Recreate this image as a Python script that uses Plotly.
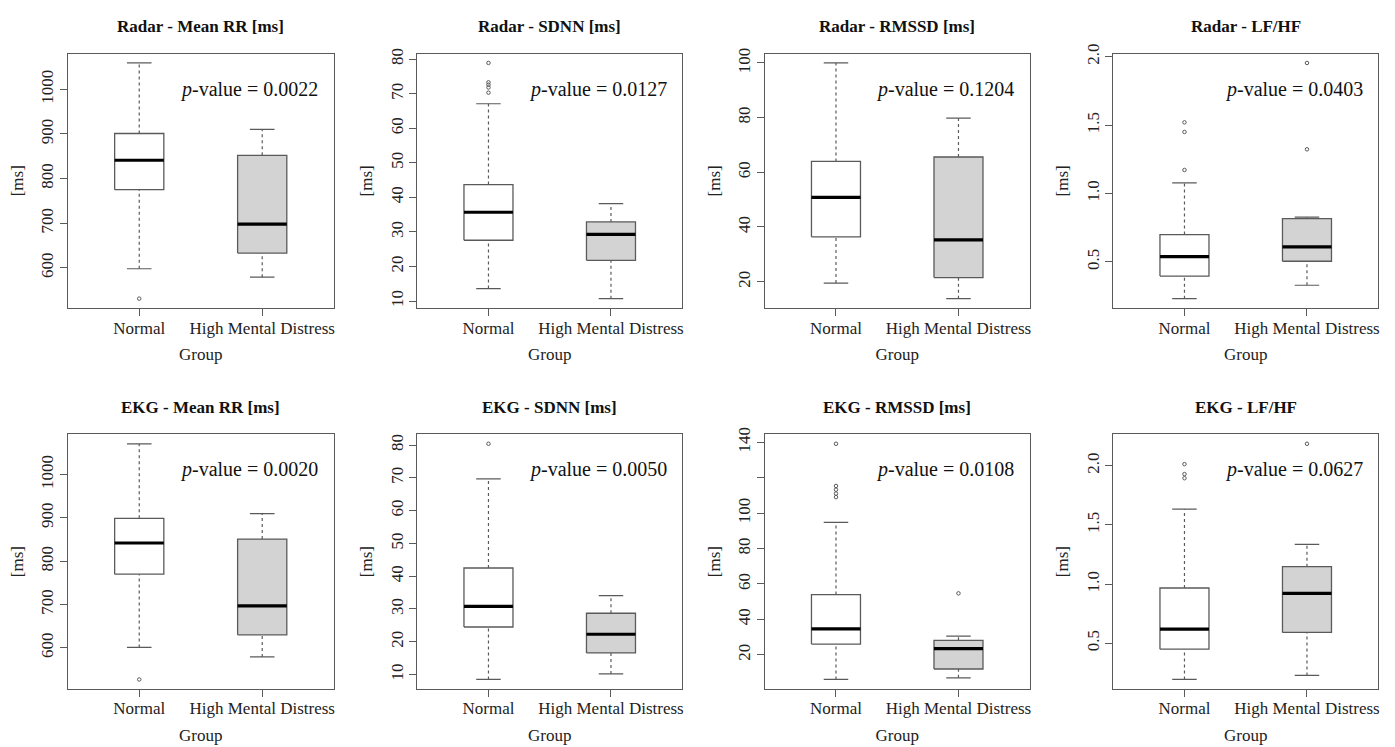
import plotly.graph_objects as go

W, H = 1395, 747

groups = ["Normal", "High Mental Distress"]

titles = ["Radar - Mean RR [ms]", "Radar - SDNN [ms]", "Radar - RMSSD [ms]", "Radar - LF/HF",
          "EKG - Mean RR [ms]", "EKG - SDNN [ms]", "EKG - RMSSD [ms]", "EKG - LF/HF"]
p_values = ["0.0022", "0.0127", "0.1204", "0.0403", "0.0020", "0.0050", "0.0108", "0.0627"]

# five-number stats per panel: [lower whisker, Q1, median, Q3, upper whisker] for Normal / HMD
normal_stats = [
    [598, 775, 841, 901, 1059],
    [13.6, 27.6, 35.7, 43.7, 67.1],
    [19.5, 36.4, 50.8, 64.0, 100.0],
    [0.232, 0.397, 0.539, 0.700, 1.078],
    [601, 770, 842, 899, 1071],
    [8.5, 24.5, 30.8, 42.5, 69.7],
    [6.1, 26.1, 34.7, 54.0, 94.7],
    [0.194, 0.450, 0.619, 0.967, 1.633],
]
hmd_stats = [
    [579, 633, 698, 852, 910],
    [10.7, 21.8, 29.3, 32.9, 38.2],
    [13.8, 21.5, 35.3, 65.6, 79.8],
    [0.330, 0.505, 0.610, 0.817, 0.827],
    [579, 630, 697, 851, 910],
    [10.2, 16.6, 22.3, 28.7, 34.1],
    [7.0, 12.0, 23.5, 28.2, 30.6],
    [0.228, 0.592, 0.922, 1.147, 1.336],
]
normal_outliers = [
    [531],
    [78.9, 73.3, 72.6, 71.8, 70.3],
    [],
    [1.52, 1.45, 1.172],
    [527],
    [80.4],
    [139.1, 115.3, 113.2, 111.0, 109.0],
    [2.014, 1.930, 1.895],
]
hmd_outliers = [
    [],
    [],
    [],
    [1.954, 1.323],
    [],
    [],
    [54.7],
    [2.186],
]
y_tickvals = [
    [600, 700, 800, 900, 1000],
    [10, 20, 30, 40, 50, 60, 70, 80],
    [20, 40, 60, 80, 100],
    [0.5, 1.0, 1.5, 2.0],
    [600, 700, 800, 900, 1000],
    [10, 20, 30, 40, 50, 60, 70, 80],
    [20, 40, 60, 80, 100, 120, 140],
    [0.5, 1.0, 1.5, 2.0],
]
y_ticktext = [
    ["600", "700", "800", "900", "1000"],
    ["10", "20", "30", "40", "50", "60", "70", "80"],
    ["20", "40", "60", "80", "100"],
    ["0.5", "1.0", "1.5", "2.0"],
    ["600", "700", "800", "900", "1000"],
    ["10", "20", "30", "40", "50", "60", "70", "80"],
    ["20", "40", "60", "80", "100", "", "140"],
    ["0.5", "1.0", "1.5", "2.0"],
]

# page offset compensation (browser body margin)
OX, OY = 8, 8
col_px = [(68 - OX, 334 - OX), (418 - OX, 683 - OX), (766 - OX, 1031 - OX), (1115 - OX, 1380 - OX)]
row_px = [(46 - OY - 2, 304 - OY - 2), (430 - OY, 688 - OY)]

FONT = "Liberation Serif"
LINE = "#5a5a5a"
TXT = "#222"
FILLS = ["white", "#d3d3d3"]

fig = go.Figure()
layout = dict(
    width=W, height=H, margin=dict(l=0, r=0, t=0, b=0),
    paper_bgcolor="white", plot_bgcolor="white", showlegend=False,
    font=dict(family=FONT, color=TXT),
)
annotations = []

hw = 0.2   # half box width
cw = 0.1   # half cap width

for i in range(8):
    r, c = divmod(i, 4)
    ax = "" if i == 0 else str(i + 1)
    xref, yref = "x" + ax, "y" + ax
    x0, x1 = col_px[c]
    y0, y1 = row_px[r]

    allv = []
    for pos, (st, outs) in enumerate([(normal_stats[i], normal_outliers[i]), (hmd_stats[i], hmd_outliers[i])], start=1):
        lo, q1, med, q3, hi = st
        allv += [lo, hi] + outs
        for a, b in [(q3, hi), (lo, q1)]:
            fig.add_trace(go.Scatter(x=[pos, pos], y=[a, b], mode="lines", xaxis=xref, yaxis=yref,
                                     line=dict(color=LINE, width=1.2, dash="3px,3px"), hoverinfo="skip"))
        for v in [lo, hi]:
            fig.add_trace(go.Scatter(x=[pos - cw, pos + cw], y=[v, v], mode="lines", xaxis=xref, yaxis=yref,
                                     line=dict(color=LINE, width=1.2), hoverinfo="skip"))
        fig.add_trace(go.Scatter(x=[pos - hw, pos + hw, pos + hw, pos - hw, pos - hw],
                                 y=[q1, q1, q3, q3, q1], mode="lines", fill="toself",
                                 fillcolor=FILLS[pos - 1], xaxis=xref, yaxis=yref,
                                 line=dict(color=LINE, width=1.3), hoverinfo="skip"))
        fig.add_trace(go.Scatter(x=[pos - hw, pos + hw], y=[med, med], mode="lines", xaxis=xref, yaxis=yref,
                                 line=dict(color="black", width=3.2), hoverinfo="skip"))
        if outs:
            fig.add_trace(go.Scatter(x=[pos] * len(outs), y=outs, mode="markers", xaxis=xref, yaxis=yref,
                                     marker=dict(symbol="circle-open", size=3.5, color=LINE, line=dict(width=1)),
                                     hoverinfo="skip"))

    vmin, vmax = min(allv), max(allv)
    pad = 0.04 * (vmax - vmin)

    layout["xaxis" + ax] = dict(
        domain=[x0 / W, x1 / W], range=[0.42, 2.58], anchor=yref,
        tickvals=[1, 2], ticktext=groups, ticks="outside", ticklen=7, tickcolor=LINE,
        showline=True, linecolor=LINE, linewidth=1.2, mirror=True, showgrid=False, zeroline=False,
        tickfont=dict(family=FONT, size=17, color=TXT), ticklabelstandoff=-3,
        title=dict(text="Group", font=dict(family=FONT, size=17, color=TXT), standoff=11),
        fixedrange=True,
    )
    layout["yaxis" + ax] = dict(
        domain=[1 - y1 / H, 1 - y0 / H], range=[vmin - pad, vmax + pad], anchor=xref,
        tickvals=y_tickvals[i], ticktext=y_ticktext[i], tickangle=-90,
        ticks="outside", ticklen=7, tickcolor=LINE,
        showline=True, linecolor=LINE, linewidth=1.2, mirror=True, showgrid=False, zeroline=False,
        tickfont=dict(family=FONT, size=17, color=TXT),
        title=dict(text="[ms]", font=dict(family=FONT, size=17, color=TXT), standoff=10),
        fixedrange=True,
    )
    annotations.append(dict(text="<b>" + titles[i] + "</b>", xref="paper", yref="paper",
                            x=(x0 + x1) / 2 / W, y=1 - (y0 - 27) / H, xanchor="center", yanchor="middle",
                            showarrow=False, font=dict(family=FONT, size=17, color="#111")))
    annotations.append(dict(text="<i>p</i>-value = " + p_values[i], xref=xref + " domain", yref=yref + " domain",
                            x=0.95, y=0.86, xanchor="right", yanchor="middle", showarrow=False,
                            font=dict(family=FONT, size=20, color="#111")))

layout["annotations"] = annotations
fig.update_layout(**layout)
fig.write_html("out.html")
